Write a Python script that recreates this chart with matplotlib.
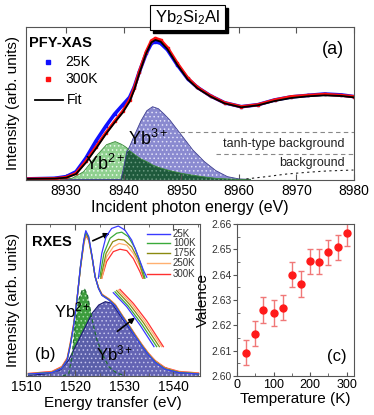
import numpy as np
import matplotlib
matplotlib.use("Agg")
import matplotlib.pyplot as plt
from matplotlib.patches import Rectangle
from matplotlib.ticker import MultipleLocator

plt.rcParams['font.family'] = ['Liberation Sans', 'DejaVu Sans']
plt.rcParams['mathtext.fontset'] = 'custom'
plt.rcParams['mathtext.rm'] = 'Liberation Sans'
plt.rcParams['mathtext.it'] = 'Liberation Sans:italic'
plt.rcParams['hatch.linewidth'] = 0.6

# ---- (a) PFY-XAS data ----
E_a = [8923, 8928, 8930, 8931.7, 8933.4, 8935.2, 8936.9, 8938.4, 8939.8, 8941.0,
       8941.8, 8942.7, 8943.9, 8944.8, 8945.5, 8946.4, 8947.6, 8949.3, 8951.1, 8952.8,
       8955.1, 8957.5, 8960.4, 8963.3, 8966.2, 8969.1, 8972.0, 8974.9, 8977.8, 8980]
xas_25K = [0.007, 0.011, 0.022, 0.054, 0.142, 0.257, 0.353, 0.431, 0.490, 0.540,
           0.606, 0.708, 0.828, 0.893, 0.904, 0.893, 0.850, 0.752, 0.662, 0.605,
           0.549, 0.505, 0.479, 0.492, 0.523, 0.543, 0.553, 0.562, 0.556, 0.545]
xas_300K = [0.007, 0.009, 0.017, 0.044, 0.122, 0.218, 0.309, 0.383, 0.449, 0.523,
            0.599, 0.708, 0.839, 0.911, 0.926, 0.915, 0.865, 0.763, 0.667, 0.605,
            0.549, 0.505, 0.479, 0.492, 0.523, 0.545, 0.553, 0.560, 0.553, 0.545]
xas_fit = [0.007, 0.009, 0.015, 0.039, 0.113, 0.207, 0.301, 0.375, 0.440, 0.512,
           0.588, 0.697, 0.828, 0.900, 0.915, 0.904, 0.854, 0.752, 0.658, 0.599,
           0.545, 0.501, 0.475, 0.488, 0.516, 0.536, 0.547, 0.553, 0.549, 0.540]

E_comp = [8929, 8931, 8933, 8935, 8937, 8938.5, 8939.5, 8940, 8940.5, 8941, 8942,
          8943, 8944, 8945, 8946, 8947, 8948, 8950, 8952, 8954, 8956, 8958, 8960, 8962]
yb2_a = [0.004, 0.011, 0.054, 0.148, 0.231, 0.251, 0.235, 0.224, 0.211, 0.192, 0.163,
         0.137, 0.120, 0.098, 0.083, 0.072, 0.061, 0.044, 0.031, 0.020, 0.011, 0.007,
         0.004, 0.004]
yb3_a = [0.004, 0.004, 0.004, 0.004, 0.004, 0.004, 0.004, 0.087, 0.185, 0.218, 0.305,
         0.388, 0.453, 0.479, 0.466, 0.431, 0.392, 0.294, 0.196, 0.120, 0.061, 0.022,
         0.007, 0.004]
E_bg = [8961.3, 8964.8, 8968.3, 8971.8, 8975.3, 8979.9]
bg = [0.007, 0.022, 0.039, 0.050, 0.059, 0.065]
tanh_level = 0.316
bg_level = 0.168

# ---- (b) RXES data ----
E_b = [1510.5, 1515.3, 1517.3, 1518.4, 1519.0, 1519.7, 1520.4, 1521.1, 1521.8, 1522.2,
       1522.8, 1523.5, 1524.1, 1524.8, 1525.5, 1526.9, 1528.2, 1529.6, 1531.0, 1532.3,
       1533.7, 1535.0, 1536.4, 1538.4, 1541.2, 1545.2]
rxes = {
    '25K': [0.013, 0.022, 0.051, 0.105, 0.193, 0.324, 0.500, 0.719, 0.895, 0.956, 0.917, 0.785,
            0.653, 0.575, 0.530, 0.500, 0.460, 0.390, 0.324, 0.259, 0.193, 0.138, 0.088, 0.044,
            0.022, 0.013],
    '100K': [0.013, 0.023, 0.052, 0.106, 0.195, 0.326, 0.500, 0.715, 0.888, 0.948, 0.910, 0.782,
             0.653, 0.577, 0.532, 0.502, 0.462, 0.393, 0.327, 0.262, 0.196, 0.140, 0.090, 0.046,
             0.023, 0.014],
    '175K': [0.014, 0.024, 0.054, 0.108, 0.198, 0.328, 0.500, 0.712, 0.882, 0.940, 0.904, 0.780,
             0.654, 0.579, 0.534, 0.504, 0.465, 0.396, 0.330, 0.265, 0.199, 0.143, 0.093, 0.048,
             0.025, 0.015],
    '250K': [0.015, 0.026, 0.057, 0.111, 0.202, 0.332, 0.502, 0.709, 0.876, 0.933, 0.898, 0.778,
             0.655, 0.581, 0.536, 0.506, 0.468, 0.399, 0.333, 0.268, 0.202, 0.146, 0.096, 0.051,
             0.027, 0.017],
    '300K': [0.017, 0.030, 0.062, 0.118, 0.212, 0.340, 0.505, 0.705, 0.868, 0.925, 0.892, 0.776,
             0.656, 0.583, 0.538, 0.508, 0.471, 0.402, 0.336, 0.272, 0.206, 0.150, 0.100, 0.055,
             0.030, 0.020],
}
rxes_colors = {'25K': '#3a3aff', '100K': '#3aaa3a', '175K': '#8a8a10',
               '250K': '#ffb070', '300K': '#ff3030'}

# zoomed views of the peak and of the tail
peak_E = {
    '25K': [1520.93, 1521.12, 1521.36, 1521.67, 1522.04, 1522.41, 1522.78, 1523.15, 1523.43, 1523.62],
    '100K': [1521.02, 1521.24, 1521.58, 1521.95, 1522.23, 1522.59, 1522.97, 1523.34, 1523.52],
    '175K': [1521.06, 1521.36, 1521.73, 1522.04, 1522.36, 1522.78, 1523.15, 1523.47],
    '250K': [1521.12, 1521.39, 1521.76, 1522.09, 1522.51, 1522.87, 1523.24, 1523.43],
    '300K': [1521.12, 1521.39, 1521.76, 1522.13, 1522.51, 1522.87, 1523.24, 1523.39],
}
peak_I = {
    '25K': [0.811, 0.884, 0.933, 0.957, 0.964, 0.952, 0.923, 0.874, 0.835, 0.814],
    '100K': [0.816, 0.884, 0.928, 0.943, 0.946, 0.933, 0.899, 0.845, 0.811],
    '175K': [0.811, 0.884, 0.918, 0.925, 0.923, 0.903, 0.865, 0.811],
    '250K': [0.811, 0.874, 0.903, 0.913, 0.908, 0.884, 0.845, 0.811],
    '300K': [0.811, 0.860, 0.889, 0.896, 0.892, 0.869, 0.830, 0.811],
}
tail_E = {
    '25K': [1531.34, 1532.73, 1534.10, 1535.55],
    '100K': [1531.52, 1532.89, 1534.28, 1535.83],
    '175K': [1531.69, 1533.07, 1534.45, 1536.10],
    '250K': [1531.86, 1533.24, 1534.62, 1536.35],
    '300K': [1532.03, 1533.41, 1534.79, 1536.52],
}
tail_I = {
    '25K': [0.338, 0.292, 0.232, 0.161],
    '100K': [0.341, 0.294, 0.235, 0.161],
    '175K': [0.345, 0.298, 0.240, 0.161],
    '250K': [0.347, 0.301, 0.243, 0.161],
    '300K': [0.349, 0.303, 0.246, 0.161],
}

E_yb2_b = [1517.5, 1518.71, 1519.39, 1520.07, 1520.75, 1521.43, 1521.97, 1522.52, 1523.13,
           1523.81, 1524.49, 1525.51, 1526.88, 1528.57, 1530.0]
yb2_b = [0.0, 0.013, 0.127, 0.347, 0.500, 0.561, 0.570, 0.533, 0.434, 0.324, 0.237,
         0.149, 0.061, 0.018, 0.005]
E_yb3_b = [1510.5, 1513.95, 1517.0, 1518.71, 1520.41, 1522.11, 1523.47, 1524.84, 1526.18,
           1527.55, 1529.59, 1532.31, 1535.04, 1537.76, 1541.16, 1545.24]
yb3_b = [0.005, 0.013, 0.039, 0.105, 0.215, 0.324, 0.412, 0.467, 0.489, 0.478, 0.380,
         0.259, 0.138, 0.061, 0.022, 0.013]

# ---- (c) valence ----
temperature = [25, 50, 70, 100, 125, 150, 175, 200, 225, 250, 275, 300]
valence = [2.6092, 2.6167, 2.6261, 2.6248, 2.6270, 2.6400, 2.6363, 2.6452, 2.6451,
           2.6488, 2.6508, 2.6563]
valence_err = [0.005] * len(temperature)

frame_col = '#555555'
fig = plt.figure(figsize=(3.74, 4.15), dpi=100)

# ================= (a) =================
ax = fig.add_axes([0.0695, 0.5663, 0.877, 0.3687])
E_comp = np.array(E_comp)
g = np.array(yb2_a)
b = np.array(yb3_a)
ax.fill_between(E_comp, 0, g, facecolor='#8fd08f', edgecolor='#e8f8e8', hatch='....', lw=0)
ax.fill_between(E_comp, 0, b, facecolor='#8a8ad0', edgecolor='#e0e0f8', hatch='....', lw=0)
ax.fill_between(E_comp, 0, np.minimum(g, b), facecolor='#1e5a3c', edgecolor='#6a9a80',
                hatch='....', lw=0)
ax.plot(E_comp, b, color='#404090', lw=0.6)
ax.plot(E_comp, g, color='#3a8a3a', lw=0.6)
ax.plot(E_bg, bg, color='#222222', lw=0.8, ls=(0, (2, 3)))
ax.axhline(tanh_level, xmin=(8949.7 - 8923) / 57, color='#888888', lw=0.8, ls=(0, (4, 3)))
ax.axhline(bg_level, xmin=(8956 - 8923) / 57, color='#888888', lw=0.8, ls=(0, (4, 3)))
ax.plot(E_a, xas_25K, color='#1010ff', lw=2.6, marker='s', ms=2)
ax.plot(E_a, xas_300K, color='#ff1010', lw=2.2, marker='s', ms=2)
ax.plot(E_a, xas_fit, color='black', lw=1.3)
ax.text(8978.4, 0.235, 'tanh-type background', fontsize=9, ha='right', va='center',
        color='#222222')
ax.text(8978.4, 0.109, 'background', fontsize=9, ha='right', va='center', color='#222222')
ax.text(8944.2, 0.27, 'Yb$^{3+}$', fontsize=13, ha='center', va='center')
ax.text(8936.7, 0.105, 'Yb$^{2+}$', fontsize=13, ha='center', va='center')

ax.text(0.009, 0.895, 'PFY-XAS', transform=ax.transAxes, fontsize=10.5, fontweight='bold',
        va='center')
ax.plot([0.067], [0.771], 's', color='#1010ff', ms=3, transform=ax.transAxes)
ax.text(0.119, 0.771, '25K', transform=ax.transAxes, fontsize=10, va='center')
ax.plot([0.067], [0.66], 's', color='#ff1010', ms=3, transform=ax.transAxes)
ax.text(0.119, 0.66, '300K', transform=ax.transAxes, fontsize=10, va='center')
ax.plot([0.027, 0.113], [0.523, 0.523], color='black', lw=1.3, transform=ax.transAxes)
ax.text(0.125, 0.523, 'Fit', transform=ax.transAxes, fontsize=10, va='center')
ax.text(0.936, 0.85, '(a)', transform=ax.transAxes, fontsize=13, ha='center', va='center')

ax.set_xlim(8923, 8980)
ax.set_ylim(0, 1.0)
ax.set_xticks([8930, 8940, 8950, 8960, 8970, 8980])
ax.set_yticks([])
ax.tick_params(axis='x', direction='in', top=True, length=4, labelsize=10, pad=3,
               color=frame_col)
ax.set_xlabel('Incident photon energy (eV)', fontsize=11.5, labelpad=1)
ax.set_ylabel('Intensity (arb. units)', fontsize=11, labelpad=4)
for s in ax.spines.values():
    s.set_color(frame_col)

# title box with shadow
fig.patches.append(Rectangle((153 / 374, 1 - 33 / 415), 75 / 374, 25 / 415,
                             transform=fig.transFigure, facecolor='black', edgecolor='black',
                             zorder=5))
fig.patches.append(Rectangle((150 / 374, 1 - 30 / 415), 75 / 374, 25 / 415,
                             transform=fig.transFigure, facecolor='white', edgecolor='black',
                             lw=0.8, zorder=6))
fig.text(187.5 / 374, 1 - 17.5 / 415, 'Yb$_2$Si$_2$Al', fontsize=12, ha='center', va='center',
         zorder=7)

# ================= (b) =================
axb = fig.add_axes([0.0695, 0.094, 0.4652, 0.3663])
axb.fill_between(E_yb2_b, 0, yb2_b, facecolor='#3c9c3c', edgecolor='#a8dca8', hatch='....',
                 lw=0)
axb.fill_between(E_yb3_b, 0, yb3_b, facecolor='#5c5cb0', edgecolor='#c8c8ee', hatch='....',
                 lw=0, alpha=0.95)
axb.plot(E_yb3_b, yb3_b, color='#1a1a70', lw=0.8)
axb.plot(E_yb2_b, yb2_b, color='#1e6a2e', lw=0.9, ls=(0, (3, 2)))
for t in ['300K', '250K', '175K', '100K', '25K']:
    axb.plot(E_b, rxes[t], color=rxes_colors[t], lw=0.9)
axb.annotate('', xy=(1527.6, 0.947), xytext=(1523.1, 0.882),
             arrowprops=dict(arrowstyle='-|>', color='black', lw=1.2, mutation_scale=8))
axb.annotate('', xy=(1532.7, 0.395), xytext=(1528.2, 0.283),
             arrowprops=dict(arrowstyle='-|>', color='black', lw=1.2, mutation_scale=8))
axb.text(1519.6, 0.434, 'Yb$^{2+}$', fontsize=12, ha='center', va='center')
axb.text(1528.0, 0.15, 'Yb$^{3+}$', fontsize=12, ha='center', va='center')
axb.text(1513.9, 0.14, '(b)', fontsize=12, ha='center', va='center')
axb.text(0.033, 0.88, 'RXES', transform=axb.transAxes, fontsize=10.5, fontweight='bold',
         va='center')
leg_y = [0.934, 0.873, 0.811, 0.741, 0.671]
for t, yy in zip(['25K', '100K', '175K', '250K', '300K'], leg_y):
    axb.plot([0.695, 0.828], [yy, yy], color=rxes_colors[t], lw=1.0, transform=axb.transAxes)
    axb.text(0.845, yy, t, transform=axb.transAxes, fontsize=7, va='center', color='#333333')
axb.set_xlim(1510, 1545.5)
axb.set_ylim(0, 1.0)
axb.set_xticks([1510, 1520, 1530, 1540])
axb.xaxis.set_minor_locator(MultipleLocator(5))
axb.set_yticks([])
axb.tick_params(axis='x', which='both', direction='in', top=True, labelsize=10, pad=3,
                color=frame_col)
axb.tick_params(axis='x', which='major', length=4)
axb.tick_params(axis='x', which='minor', length=2)
axb.set_xlabel('Energy transfer (eV)', fontsize=11, labelpad=1)
axb.set_ylabel('Intensity (arb. units)', fontsize=11, labelpad=4)
for s in axb.spines.values():
    s.set_color(frame_col)

# peak zoom
axp = fig.add_axes([0.2567, 0.3205, 0.1444, 0.1398])
for t in ['300K', '250K', '175K', '100K', '25K']:
    axp.plot(peak_E[t], peak_I[t], color=rxes_colors[t], lw=0.9)
axp.set_xlim(1520.8, 1523.8)
axp.set_ylim(0.80, 0.97)
axp.axis('off')

# tail zoom
axt = fig.add_axes([0.2941, 0.1566, 0.1551, 0.1542])
for t in ['25K', '100K', '175K', '250K', '300K']:
    axt.plot(tail_E[t], tail_I[t], color=rxes_colors[t], lw=0.9)
axt.set_xlim(1531, 1537)
axt.set_ylim(0.15, 0.36)
axt.axis('off')

# ================= (c) =================
axc = fig.add_axes([0.6337, 0.094, 0.3128, 0.3663])
axc.errorbar(temperature, valence, yerr=valence_err, fmt='o', color='#ff1a1a', ms=5,
             ecolor='#f07878', elinewidth=1.0, capsize=2.5, capthick=1.0)
axc.set_xlim(0, 320)
axc.set_ylim(2.60, 2.66)
axc.set_xticks([0, 100, 200, 300])
axc.set_yticks([2.60, 2.61, 2.62, 2.63, 2.64, 2.65, 2.66])
axc.set_yticklabels(['2.60', '2.61', '2.62', '2.63', '2.64', '2.65', '2.66'])
axc.xaxis.set_minor_locator(MultipleLocator(50))
axc.yaxis.set_minor_locator(MultipleLocator(0.005))
axc.tick_params(axis='y', which='major', direction='out', length=3, labelsize=7.5, pad=1,
                color=frame_col, labelcolor='#333333')
axc.tick_params(axis='x', which='major', direction='in', length=3, labelsize=9, pad=2,
                color=frame_col)
axc.tick_params(which='minor', direction='in', length=2, color=frame_col)
axc.set_xlabel('Temperature (K)', fontsize=11, labelpad=1)
axc.set_ylabel('Valence', fontsize=11, labelpad=1)
axc.text(0.855, 0.125, '(c)', transform=axc.transAxes, fontsize=12, ha='center',
         va='center')
for s in axc.spines.values():
    s.set_color(frame_col)

fig.savefig('out.png', dpi=100)
